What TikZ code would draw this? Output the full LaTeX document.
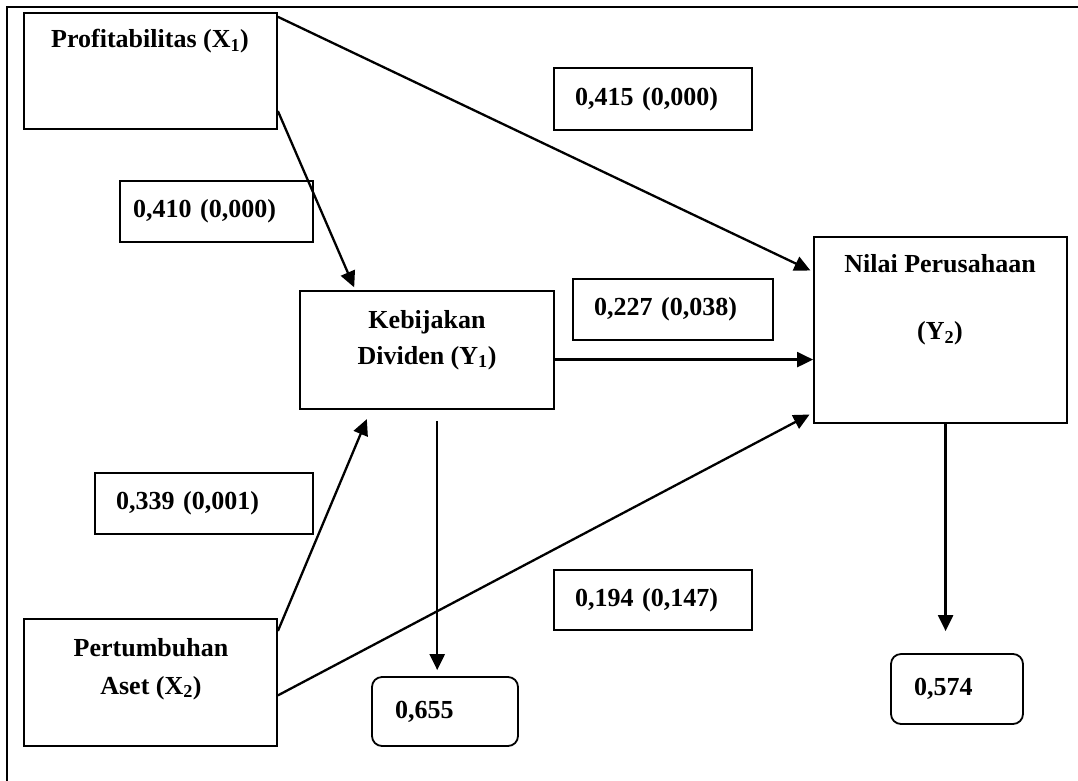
\documentclass[tikz,border=0pt]{standalone}
\usepackage{fontspec}
\setmainfont{Liberation Serif}
\usetikzlibrary{arrows.meta,calc}

\begin{document}
\begin{tikzpicture}[x=1pt,y=-1pt,
  every node/.style={font=\fontsize{26}{36}\selectfont\bfseries},
  box/.style={draw, line width=1.8pt, inner sep=0pt},
  lbl/.style={draw, line width=1.8pt, minimum height=61pt, inner xsep=21pt, inner ysep=0pt, text width=#1, align=left},
  res/.style={lbl=#1, rounded corners=10pt, inner xsep=23pt, minimum height=70pt},
  arr/.style={line width=2.3pt, -{Triangle[length=16pt,width=15pt]}}]

\useasboundingbox(0,0)rectangle(1078,780);
\draw[line width=2.6pt](7,7)rectangle(1100,800);

% variables
\node[box, minimum width=253pt, minimum height=116pt](x1)at(150.5,71){};
\node[box, minimum width=254pt, minimum height=118pt](y1)at(427,350){};
\node[box, minimum width=253pt, minimum height=186pt](y2)at(940.5,330){};
\node[box, minimum width=253pt, minimum height=127pt](x2)at(150.5,682.5){};

\node(x1t)at(150,41){Profitabilitas (X\textsubscript{1})};
\node[align=center](y1t)at(427,340){Kebijakan\\Dividen (Y\textsubscript{1})};
\node[align=center](y2t)at(940,300){Nilai Perusahaan\\[31pt](Y\textsubscript{2})};
\node[align=center](x2t)at(151,669){Pertumbuhan\\[2pt]Aset (X\textsubscript{2})};

% coefficients
\node[lbl=156pt, minimum height=62pt](l415)at(653,99){0,415 (0,000)};
\node[lbl=167pt, inner xsep=13pt](l410)at(216.5,211.5){0,410 (0,000)};
\node[lbl=158pt](l227)at(673,309.5){0,227 (0,038)};
\node[lbl=176pt](l339)at(204,503.5){0,339 (0,001)};
\node[lbl=156pt, minimum height=60pt](l194)at(653,600){0,194 (0,147)};

% R square
\node[res=100pt, minimum height=69pt](r1)at(445,711.5){0,655};
\node[res=86pt](r2)at(957,689){0,574};

% paths
\draw[arr, shorten >=3pt]($(x1.north east)!0.04!(x1.south east)$)--($(y2.north west)!0.19!(y2.south west)$);
\draw[arr, shorten >=3pt]($(x1.north east)!0.84!(x1.south east)$)--($(y1.north west)!0.22!(y1.north east)$);
\draw[arr]($(y1.north east)!0.58!(y1.south east)$)coordinate(k)--(k -| y2.west);
\draw[arr, shorten >=10pt]($(x2.north east)!0.10!(x2.south east)$)--($(y1.south west)!0.28!(y1.south east)$);
\draw[arr, shorten >=4pt]($(x2.north east)!0.60!(x2.south east)$)--($(y2.north west)!0.94!(y2.south west)$);
\draw[arr, shorten <=11pt, shorten >=6pt]($(y1.south west)!0.54!(y1.south east)$)coordinate(d1)--(d1 |- r1.north);
\draw[arr, shorten >=22pt]($(y2.south west)!0.52!(y2.south east)$)coordinate(d2)--(d2 |- r2.north);

\end{tikzpicture}
\end{document}
